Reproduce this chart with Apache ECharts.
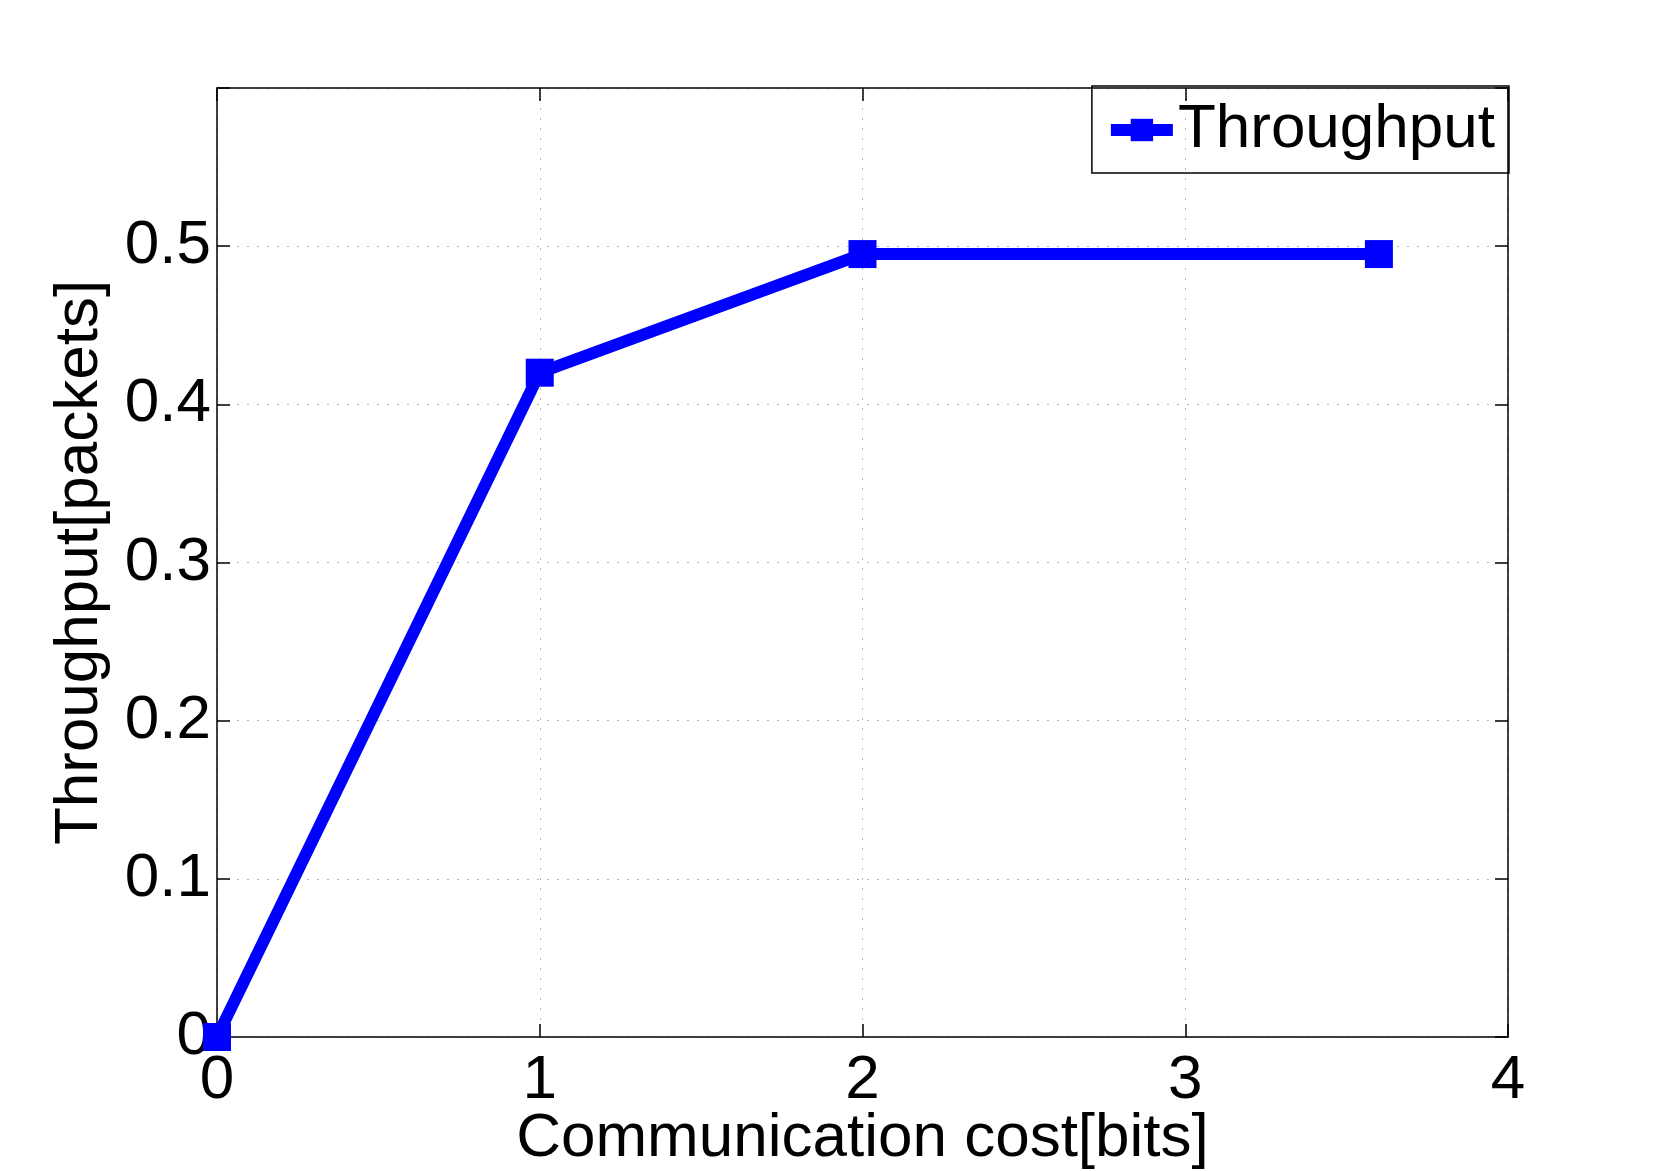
<!DOCTYPE html>
<html>
<head>
<meta charset="utf-8">
<script src="https://cdn.jsdelivr.net/npm/echarts@6/dist/echarts.min.js"></script>
<style>
  html, body { margin: 0; padding: 0; background: #fff; }
  #main { width: 1667px; height: 1171px; }
</style>
</head>
<body>
<div id="main"></div>
<script>
// values
var costBits = [0, 1, 2, 3.6];
var throughput = [0, 0.42, 0.495, 0.495];
var seriesName = 'Throughput';
var xName = 'Communication cost[bits]';
var yName = 'Throughput[packets]';

var FONT = '"Liberation Sans", Arial, Helvetica, sans-serif';
var BLUE = '#0000ff';

var chart = echarts.init(document.getElementById('main'));

var points = costBits.map(function (x, i) { return [x, throughput[i]]; });

// box axes (top / right) only carry ticks, like matlab's box on
function boxAxis(extra) {
  return Object.assign({
    type: 'value',
    axisLine: { show: true, onZero: false, lineStyle: { color: '#000', width: 1.5 } },
    axisTick: { show: true, inside: true, length: 13, lineStyle: { color: '#000', width: 1.5 } },
    axisLabel: { show: false },
    splitLine: { show: false }
  }, extra);
}

chart.setOption({
  animation: false,
  backgroundColor: '#fff',
  grid: { left: 217, right: 159, top: 88, bottom: 134, outerBoundsMode: 'none' },
  legend: {
    right: 158,
    top: 86,
    orient: 'vertical',
    borderColor: '#000',
    borderWidth: 1.5,
    borderRadius: 0,
    padding: [13, 14, 12, 13],
    itemWidth: 62,
    itemHeight: 28,
    lineStyle: { width: 12 },
    textStyle: { fontFamily: FONT, fontSize: 62, color: '#000' },
    data: [seriesName]
  },
  xAxis: [
    {
      type: 'value',
      min: 0, max: 4, interval: 1,
      name: xName,
      nameLocation: 'middle',
      nameGap: 71,
      nameMoveOverlap: false,
      nameTextStyle: { fontFamily: FONT, fontSize: 62, color: '#000' },
      axisLine: { show: true, onZero: false, lineStyle: { color: '#000', width: 1.5 } },
      axisTick: { show: true, inside: true, length: 13, lineStyle: { color: '#000', width: 1.5 } },
      axisLabel: { fontFamily: FONT, fontSize: 62, color: '#000', margin: 13 },
      splitLine: { show: true, lineStyle: { color: '#b4b4b4', type: [2, 8], width: 1 } }
    },
    boxAxis({ position: 'top', min: 0, max: 4, interval: 1 })
  ],
  yAxis: [
    {
      type: 'value',
      min: 0, max: 0.6, interval: 0.1,
      name: yName,
      nameLocation: 'middle',
      nameGap: 106,
      nameMoveOverlap: false,
      nameTextStyle: { fontFamily: FONT, fontSize: 62, color: '#000' },
      axisLine: { show: true, onZero: false, lineStyle: { color: '#000', width: 1.5 } },
      axisTick: { show: true, inside: true, length: 13, lineStyle: { color: '#000', width: 1.5 } },
      axisLabel: {
        fontFamily: FONT, fontSize: 62, color: '#000', margin: 6,
        formatter: function (v) { return v > 0.55 ? '' : String(+v.toFixed(1)); }
      },
      splitLine: { show: true, lineStyle: { color: '#b4b4b4', type: [2, 8], width: 1 } }
    },
    boxAxis({ position: 'right', min: 0, max: 0.6, interval: 0.1 })
  ],
  series: [
    {
      name: seriesName,
      type: 'line',
      data: points,
      symbol: 'rect',
      symbolSize: 28,
      showAllSymbol: true,
      clip: false,
      lineStyle: { color: BLUE, width: 12 },
      itemStyle: { color: BLUE },
      z: 5
    }
  ]
});
</script>
</body>
</html>
